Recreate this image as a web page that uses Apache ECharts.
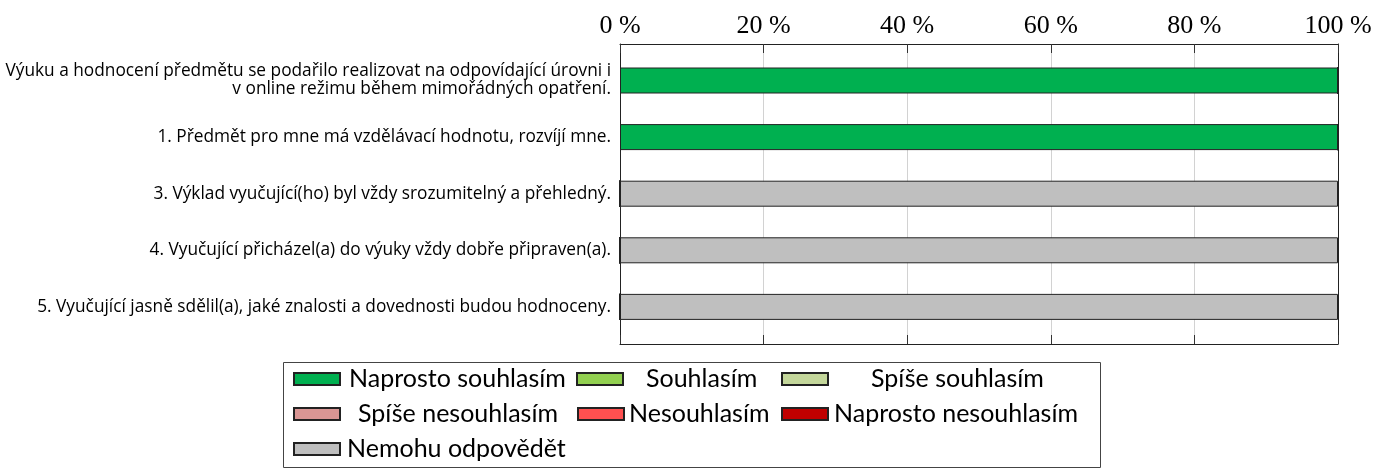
<!DOCTYPE html>
<html>
<head>
<meta charset="utf-8">
<script src="https://cdn.jsdelivr.net/npm/echarts@6/dist/echarts.min.js"></script>
<style>
html,body{margin:0;padding:0;background:#fff;}
#chart{width:1376px;height:468px;}
</style>
</head>
<body>
<div id="chart"></div>
<script>
const categories = [
  "Výuku a hodnocení předmětu se podařilo realizovat na odpovídající úrovni i\nv online režimu během mimořádných opatření.",
  "1. Předmět pro mne má vzdělávací hodnotu, rozvíjí mne.",
  "3. Výklad vyučující(ho) byl vždy srozumitelný a přehledný.",
  "4. Vyučující přicházel(a) do výuky vždy dobře připraven(a).",
  "5. Vyučující jasně sdělil(a), jaké znalosti a dovednosti budou hodnoceny."
];
const seriesNames = ["Naprosto souhlasím","Souhlasím","Spíše souhlasím","Spíše nesouhlasím","Nesouhlasím","Naprosto nesouhlasím","Nemohu odpovědět"];
const naprostoSouhlasim   = [100, 100, 0, 0, 0];
const souhlasim           = [0, 0, 0, 0, 0];
const spiseSouhlasim      = [0, 0, 0, 0, 0];
const spiseNesouhlasim    = [0, 0, 0, 0, 0];
const nesouhlasim         = [0, 0, 0, 0, 0];
const naprostoNesouhlasim = [0, 0, 0, 0, 0];
const nemohuOdpovedet     = [0, 0, 100, 100, 100];
const seriesValues = [naprostoSouhlasim, souhlasim, spiseSouhlasim, spiseNesouhlasim, nesouhlasim, naprostoNesouhlasim, nemohuOdpovedet];
const xTickValues = [0, 20, 40, 60, 80, 100];

const colors = ["#00B050","#92D050","#C4D79B","#DA9694","#FF5050","#C00000","#BFBFBF"];

// legend layout: [left, top, text padding]
const legendLayout = [
  [293, 366, 4],
  [576, 366, 18],
  [781, 366, 38],
  [293, 401, 13],
  [577, 401, 0],
  [781, 401, 1],
  [293, 436, 2]
];

const chart = echarts.init(document.getElementById('chart'), null, {renderer:'canvas'});

const series = seriesNames.map((name, i) => ({
  name: name,
  type: 'bar',
  stack: 'total',
  xAxisIndex: 2,
  yAxisIndex: 1,
  barWidth: 26,
  data: seriesValues[i],
  itemStyle: {color: colors[i], borderColor: '#222', borderWidth: 1},
  emphasis: {disabled: true}
}));

const legends = seriesNames.map((name, i) => ({
  data: [name],
  left: legendLayout[i][0],
  top: legendLayout[i][1],
  padding: 0,
  icon: 'rect',
  itemWidth: 46,
  itemHeight: 12,
  selectedMode: false,
  textStyle: {fontFamily: 'Lato', fontSize: 25, color: '#000', lineHeight: 26, padding: [0,0,0,legendLayout[i][2]]}
}));

const frameLine = {show: true, onZero: false, lineStyle: {color: '#222', width: 1}};

chart.setOption({
  animation: false,
  backgroundColor: '#fff',
  color: colors,
  grid: [
    {left: 620, right: 38, top: 44, height: 300},
    {left: 620, right: 38, top: 52.2, height: 283}
  ],
  xAxis: [
    {gridIndex: 0, type: 'value', position: 'top', min: xTickValues[0], max: xTickValues[xTickValues.length-1], interval: 20,
     axisLine: frameLine,
     axisTick: {show: true, inside: true, length: 9, lineStyle: {color: '#333'}},
     splitLine: {show: true, lineStyle: {color: '#d2d2d2'}},
     axisLabel: {formatter: '{value} %', fontFamily: 'Liberation Serif', fontSize: 26, color: '#000', margin: 5}},
    {gridIndex: 0, type: 'value', position: 'bottom', min: xTickValues[0], max: xTickValues[xTickValues.length-1], interval: 20,
     axisLine: frameLine,
     axisTick: {show: true, inside: true, length: 9, lineStyle: {color: '#333'}},
     splitLine: {show: false},
     axisLabel: {show: false}},
    {gridIndex: 1, type: 'value', min: 0, max: 100, show: false}
  ],
  yAxis: [
    {gridIndex: 0, type: 'value', min: 0, max: 1, position: 'left', axisLine: frameLine,
     axisTick: {show: false}, axisLabel: {show: false}, splitLine: {show: false}},
    {gridIndex: 1, type: 'category', inverse: true, data: categories,
     axisLine: {show: false}, axisTick: {show: false},
     axisLabel: {fontFamily: 'Open Sans', fontSize: 17.3, color: '#000', margin: 9, lineHeight: 18}},
    {gridIndex: 0, type: 'value', min: 0, max: 1, position: 'right', axisLine: frameLine,
     axisTick: {show: false}, axisLabel: {show: false}, splitLine: {show: false}}
  ],
  legend: legends,
  graphic: [{
    type: 'rect', silent: true,
    shape: {x: 283.5, y: 362.5, width: 817, height: 105},
    style: {fill: 'none', stroke: '#444', lineWidth: 1}
  }],
  series: series
});
</script>
</body>
</html>
